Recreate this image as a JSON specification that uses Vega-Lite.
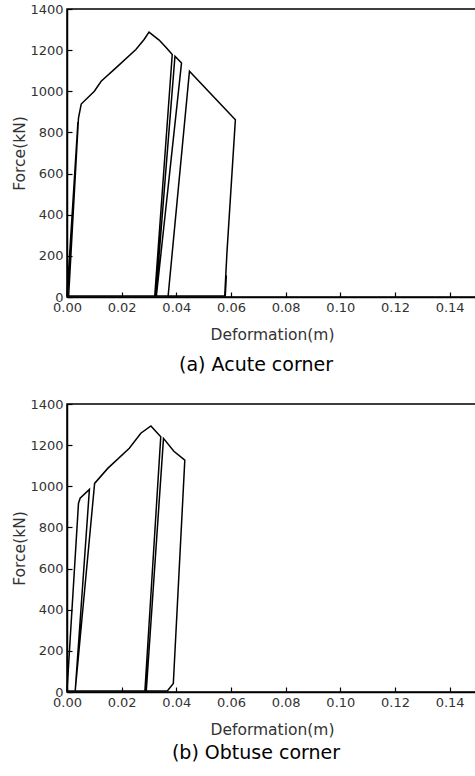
{
  "$schema": "https://vega.github.io/schema/vega-lite/v6.json",
  "padding": {"left": 12, "top": 2, "right": 0, "bottom": 0},
  "spacing": 21,
  "config": {
    "font": "DejaVu Sans",
    "view": {"stroke": "black", "strokeWidth": 1.5},
    "axis": {
      "grid": false,
      "domainColor": "black",
      "domainWidth": 1.5,
      "tickColor": "black",
      "tickWidth": 1.2,
      "tickSize": -5,
      "labelPadding": 9,
      "labelColor": "#333",
      "labelFontSize": 13,
      "labelFont": "DejaVu Sans",
      "labelFlush": false,
      "titleColor": "#333",
      "titleFontSize": 15.5,
      "titleFontWeight": "normal",
      "titleFont": "DejaVu Sans"
    },
    "title": {"font": "DejaVu Sans", "fontWeight": "normal", "color": "black", "fontSize": 19}
  },
  "datasets": {
    "acute": [
      {"i": 1, "d": 0.0, "F": 5},
      {"i": 2, "d": 0.0040, "F": 850},
      {"i": 3, "d": 0.0006, "F": 5},
      {"i": 4, "d": 0.0042, "F": 870},
      {"i": 5, "d": 0.0052, "F": 938},
      {"i": 6, "d": 0.0100, "F": 1000},
      {"i": 7, "d": 0.0125, "F": 1049},
      {"i": 8, "d": 0.0179, "F": 1114},
      {"i": 9, "d": 0.0252, "F": 1203},
      {"i": 10, "d": 0.0282, "F": 1252},
      {"i": 11, "d": 0.0300, "F": 1288},
      {"i": 12, "d": 0.0337, "F": 1249},
      {"i": 13, "d": 0.0361, "F": 1215},
      {"i": 14, "d": 0.0385, "F": 1179},
      {"i": 15, "d": 0.0321, "F": 5},
      {"i": 16, "d": 0.0325, "F": 5},
      {"i": 17, "d": 0.0395, "F": 1171},
      {"i": 18, "d": 0.0419, "F": 1138},
      {"i": 19, "d": 0.0327, "F": 5},
      {"i": 20, "d": 0.0370, "F": 5},
      {"i": 21, "d": 0.0448, "F": 1098},
      {"i": 22, "d": 0.0616, "F": 862},
      {"i": 23, "d": 0.0585, "F": 212},
      {"i": 24, "d": 0.0577, "F": 5},
      {"i": 25, "d": 0.0583, "F": 105},
      {"i": 26, "d": 0.0579, "F": 5},
      {"i": 27, "d": 0.0, "F": 5}
    ],
    "obtuse": [
      {"i": 1, "d": 0.0, "F": 5},
      {"i": 2, "d": 0.0042, "F": 917},
      {"i": 3, "d": 0.0048, "F": 942},
      {"i": 4, "d": 0.0082, "F": 985},
      {"i": 5, "d": 0.0030, "F": 5},
      {"i": 6, "d": 0.0101, "F": 1014},
      {"i": 7, "d": 0.0149, "F": 1087},
      {"i": 8, "d": 0.0228, "F": 1185},
      {"i": 9, "d": 0.0270, "F": 1258},
      {"i": 10, "d": 0.0307, "F": 1293},
      {"i": 11, "d": 0.0343, "F": 1241},
      {"i": 12, "d": 0.0285, "F": 5},
      {"i": 13, "d": 0.0290, "F": 5},
      {"i": 14, "d": 0.0353, "F": 1233},
      {"i": 15, "d": 0.0391, "F": 1170},
      {"i": 16, "d": 0.0431, "F": 1127},
      {"i": 17, "d": 0.0389, "F": 41},
      {"i": 18, "d": 0.0367, "F": 5},
      {"i": 19, "d": 0.0, "F": 5}
    ]
  },
  "vconcat": [
    {
      "width": 410,
      "height": 288,
      "data": {"name": "acute"},
      "title": {"text": "(a) Acute corner", "orient": "bottom", "offset": 13, "dx": -16},
      "mark": {"type": "line", "color": "black", "strokeWidth": 1.5},
      "encoding": {
        "x": {"field": "d", "type": "quantitative", "scale": {"domain": [0, 0.15], "nice": false},
              "axis": {"title": "Deformation(m)", "values": [0, 0.02, 0.04, 0.06, 0.08, 0.1, 0.12, 0.14], "format": ".2f", "titlePadding": 13}},
        "y": {"field": "F", "type": "quantitative", "scale": {"domain": [0, 1400], "nice": false},
              "axis": {"title": "Force(kN)", "values": [0, 200, 400, 600, 800, 1000, 1200, 1400], "format": "d", "titlePadding": 2}},
        "order": {"field": "i", "type": "quantitative"}
      }
    },
    {
      "width": 410,
      "height": 288,
      "data": {"name": "obtuse"},
      "title": {"text": "(b) Obtuse corner", "orient": "bottom", "offset": 6, "dx": -16},
      "mark": {"type": "line", "color": "black", "strokeWidth": 1.5},
      "encoding": {
        "x": {"field": "d", "type": "quantitative", "scale": {"domain": [0, 0.15], "nice": false},
              "axis": {"title": "Deformation(m)", "values": [0, 0.02, 0.04, 0.06, 0.08, 0.1, 0.12, 0.14], "format": ".2f", "titlePadding": 13}},
        "y": {"field": "F", "type": "quantitative", "scale": {"domain": [0, 1400], "nice": false},
              "axis": {"title": "Force(kN)", "values": [0, 200, 400, 600, 800, 1000, 1200, 1400], "format": "d", "titlePadding": 2}},
        "order": {"field": "i", "type": "quantitative"}
      }
    }
  ]
}
